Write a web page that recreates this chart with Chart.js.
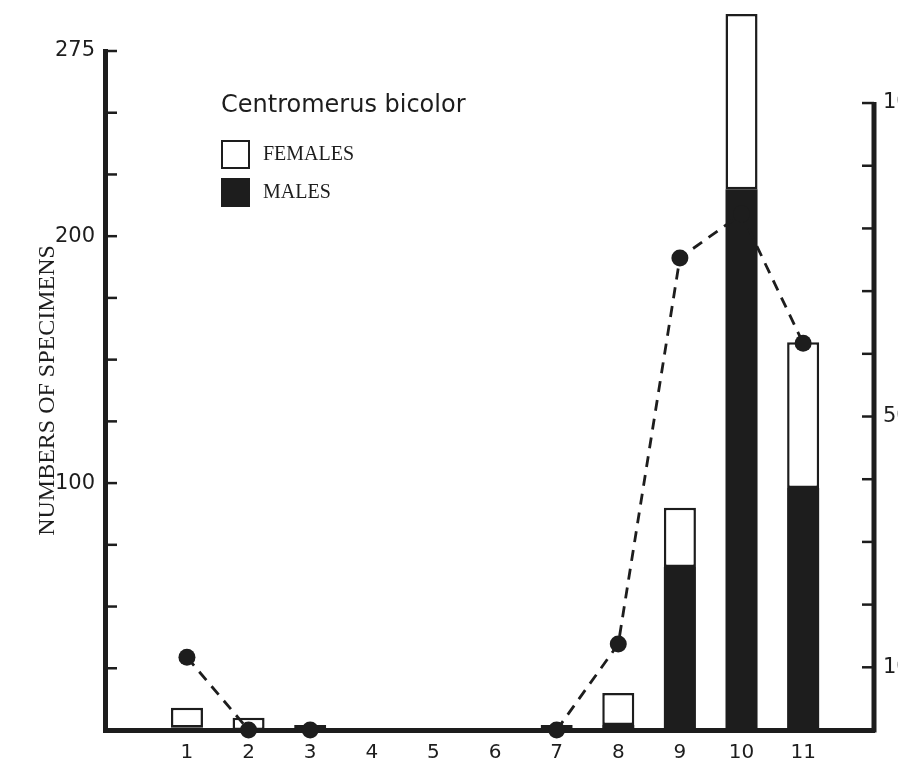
<!DOCTYPE html>
<html>
<head>
<meta charset="utf-8">
<title>Centromerus bicolor</title>
<script src="https://cdn.jsdelivr.net/npm/chart.js@4.4.1/dist/chart.umd.min.js"></script>
<style>
  html, body { margin: 0; padding: 0; background: #fff; }
  #wrap { position: relative; width: 898px; height: 765px; }
</style>
</head>
<body>
<div id="wrap"><canvas id="chart"></canvas></div>
<script>
// sample numbers 1..11
const categories = [1, 2, 3, 4, 5, 6, 7, 8, 9, 10, 11];
const males = [1, 0, 0, null, null, null, 0, 2, 66, 219, 98];
const females = [8, 5, 2, null, null, null, 2, 13, 24, 71, 59];
// dashed line, read on the right hand axis
const malePercent = [11.6, 0, 0, null, null, null, 0, 13.7, 75.3, 82.3, 61.7];
const leftTickLabels = [100, 200, 275];
const rightTickLabels = [10, 50, 100];
const speciesName = 'Centromerus bicolor';

const ink = '#1d1d1d';

function points(values) {
    return categories.map((c, i) => ({ x: c, y: values[i] }));
}

// tick marks point into the plot, and the right axis stops at 100
const inwardTicks = {
    id: 'inwardTicks',
    afterDraw(chart) {
        const ctx = chart.ctx;
        const area = chart.chartArea;
        const yl = chart.scales.y;
        const yr = chart.scales.y2;
        ctx.save();
        ctx.strokeStyle = ink;
        ctx.lineCap = 'butt';

        ctx.lineWidth = 5;
        ctx.beginPath();
        ctx.moveTo(area.right, yr.getPixelForValue(0) + 2.5);
        ctx.lineTo(area.right, yr.getPixelForValue(100) - 1);
        ctx.stroke();

        ctx.lineWidth = 2.5;
        yl.ticks.forEach(t => {
            if (t.value === 0) return;
            const py = yl.getPixelForValue(t.value);
            ctx.beginPath();
            ctx.moveTo(area.left, py);
            ctx.lineTo(area.left + 12, py);
            ctx.stroke();
        });
        yr.ticks.forEach(t => {
            if (t.value === 0 || t.value > 100) return;
            const py = yr.getPixelForValue(t.value);
            ctx.beginPath();
            ctx.moveTo(area.right, py);
            ctx.lineTo(area.right - 12, py);
            ctx.stroke();
        });
        ctx.restore();
    }
};

// species name and the two box keys inside the plot
const speciesLegend = {
    id: 'speciesLegend',
    afterDraw(chart) {
        const ctx = chart.ctx;
        ctx.save();
        ctx.fillStyle = ink;
        ctx.font = '24px "DejaVu Sans"';
        ctx.textBaseline = 'alphabetic';
        ctx.fillText(speciesName, 221, 112);

        const keys = [chart.data.datasets[1], chart.data.datasets[0]];
        keys.forEach((ds, i) => {
            const top = 141 + i * 38;
            ctx.fillStyle = ds.backgroundColor;
            ctx.fillRect(222, top, 27, 27);
            ctx.lineWidth = 2;
            ctx.strokeStyle = ink;
            ctx.strokeRect(222, top, 27, 27);
            ctx.fillStyle = ink;
            ctx.font = '20px "Liberation Serif"';
            ctx.textBaseline = 'middle';
            ctx.fillText(ds.label, 263, top + 14);
        });
        ctx.restore();
    }
};

Chart.defaults.color = ink;

const ctx = document.getElementById('chart').getContext('2d');
const chart = new Chart(ctx, {
    data: {
        datasets: [
            {
                type: 'bar',
                label: 'MALES',
                data: points(males),
                backgroundColor: ink,
                borderWidth: 0,
                barPercentage: 0.52,
                categoryPercentage: 1,
                clip: false,
                order: 1
            },
            {
                type: 'bar',
                label: 'FEMALES',
                data: points(females),
                backgroundColor: '#ffffff',
                borderColor: ink,
                borderWidth: 2.5,
                borderSkipped: false,
                barPercentage: 0.52,
                categoryPercentage: 1,
                clip: false,
                order: 1
            },
            {
                type: 'line',
                label: '% males',
                data: points(malePercent),
                yAxisID: 'y2',
                borderColor: ink,
                borderWidth: 2.8,
                borderDash: [11, 8],
                pointRadius: 8.5,
                pointBackgroundColor: ink,
                pointBorderWidth: 0,
                tension: 0,
                spanGaps: false,
                clip: false,
                order: 0
            }
        ]
    },
    options: {
        responsive: true,
        maintainAspectRatio: false,
        animation: false,
        layout: { padding: { top: 51, left: 0, right: 0, bottom: 0 } },
        plugins: {
            legend: { display: false },
            tooltip: { enabled: false }
        },
        scales: {
            x: {
                type: 'linear',
                min: -0.33,
                max: 12.15,
                offset: false,
                stacked: true,
                grid: { display: false },
                border: { color: ink, width: 5 },
                ticks: {
                    stepSize: 1,
                    includeBounds: false,
                    autoSkip: false,
                    maxRotation: 0,
                    padding: 3,
                    color: ink,
                    font: { family: 'DejaVu Sans', size: 20 },
                    callback: v => categories.includes(v) ? String(v) : ''
                },
                afterFit: s => { s.height = 35; }
            },
            y: {
                position: 'left',
                min: 0,
                max: 275,
                stacked: true,
                grid: { display: false },
                border: { color: ink, width: 5 },
                ticks: {
                    stepSize: 25,
                    padding: 2,
                    color: ink,
                    font: { family: 'DejaVu Sans', size: 21 },
                    callback: v => leftTickLabels.includes(v) ? String(v) : ''
                },
                title: {
                    display: true,
                    text: 'NUMBERS OF SPECIMENS',
                    color: ink,
                    font: { family: 'Liberation Serif', size: 24 },
                    padding: { top: 33, bottom: 0 }
                },
                afterFit: s => { s.width = 105; }
            },
            y2: {
                position: 'right',
                min: 0,
                max: 108.3,  // 100 sits a little below the top of the left axis
                grid: { display: false },
                border: { display: false },
                ticks: {
                    stepSize: 10,
                    includeBounds: false,
                    padding: 1,
                    color: ink,
                    font: { family: 'DejaVu Sans', size: 21 },
                    callback: v => rightTickLabels.includes(v) ? String(v) : ''
                },
                afterFit: s => { s.width = 24; }
            }
        }
    },
    plugins: [inwardTicks, speciesLegend]
});
</script>
</body>
</html>
